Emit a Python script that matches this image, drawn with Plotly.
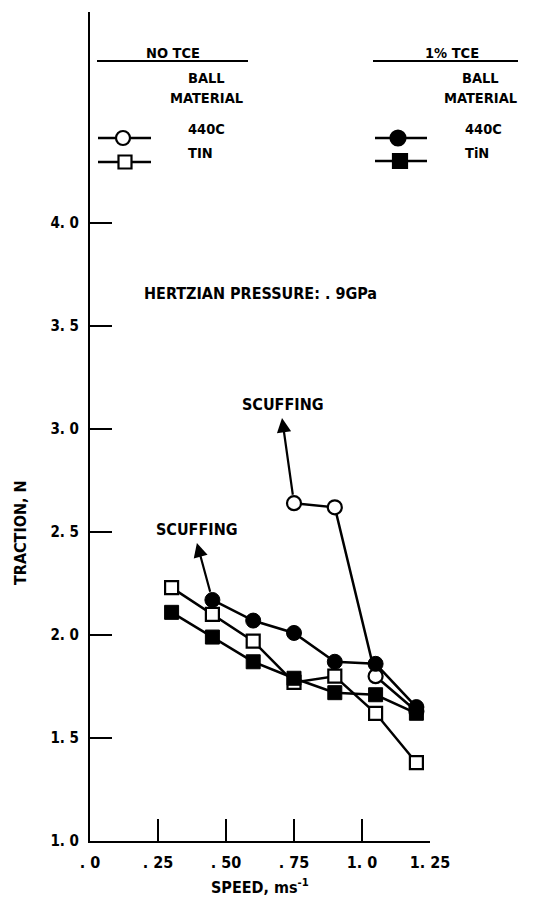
import plotly.graph_objects as go

# ---- data ----
speed_no_440c = [0.75, 0.90, 1.05, 1.20]
trac_no_440c = [2.64, 2.62, 1.80, 1.63]

speed_no_tin = [0.30, 0.45, 0.60, 0.75, 0.90, 1.05, 1.20]
trac_no_tin = [2.23, 2.10, 1.97, 1.77, 1.80, 1.62, 1.38]

speed_tce_440c = [0.45, 0.60, 0.75, 0.90, 1.05, 1.20]
trac_tce_440c = [2.17, 2.07, 2.01, 1.87, 1.86, 1.65]

speed_tce_tin = [0.30, 0.45, 0.60, 0.75, 0.90, 1.05, 1.20]
trac_tce_tin = [2.11, 1.99, 1.87, 1.79, 1.72, 1.71, 1.62]

x_tickvals = [0, 0.25, 0.50, 0.75, 1.0, 1.25]
x_ticktext = [". 0", ". 25", ". 50", ". 75", "1. 0", "1. 25"]
y_tickvals = [1.0, 1.5, 2.0, 2.5, 3.0, 3.5, 4.0]
y_ticktext = ["1. 0", "1. 5", "2. 0", "2. 5", "3. 0", "3. 5", "4. 0"]

# scuffing arrows
scuff_tail_x = [0.45, 0.75]
scuff_tail_y = [2.17, 2.64]
scuff_head_x = [0.393, 0.706]
scuff_head_y = [2.447, 3.053]
scuff_label_x = [0.393, 0.71]
scuff_label_y = [2.51, 3.117]

W, H = 551, 899
FONT = "DejaVu Sans Condensed"
BLACK = "black"

fig = go.Figure()

line = dict(color=BLACK, width=2.5)
fig.add_trace(go.Scatter(x=speed_no_440c, y=trac_no_440c, mode="lines+markers",
                         line=line, cliponaxis=False,
                         marker=dict(symbol="circle", size=14, color="white",
                                     line=dict(color=BLACK, width=2.2))))
fig.add_trace(go.Scatter(x=speed_tce_440c, y=trac_tce_440c, mode="lines+markers",
                         line=line, cliponaxis=False,
                         marker=dict(symbol="circle", size=15, color=BLACK,
                                     line=dict(color=BLACK, width=1))))
fig.add_trace(go.Scatter(x=speed_no_tin, y=trac_no_tin, mode="lines+markers",
                         line=line, cliponaxis=False,
                         marker=dict(symbol="square", size=13, color="white",
                                     line=dict(color=BLACK, width=2.2))))
fig.add_trace(go.Scatter(x=speed_tce_tin, y=trac_tce_tin, mode="lines+markers",
                         line=line, cliponaxis=False,
                         marker=dict(symbol="square", size=14, color=BLACK,
                                     line=dict(color=BLACK, width=1))))

# ---- legend drawn on a pixel-coordinate overlay axis ----
leg_lines = [  # x0, x1, y
    (98, 151, 138), (98, 151, 162), (375, 427, 138), (375, 427, 161),
]
for x0, x1, yy in leg_lines:
    fig.add_trace(go.Scatter(x=[x0, x1], y=[yy, yy], mode="lines", xaxis="x2", yaxis="y2",
                             line=dict(color=BLACK, width=2.5), hoverinfo="skip"))
leg_marks = [
    (123, 138, "circle", "white", 14),
    (125, 162, "square", "white", 13),
    (398, 138, "circle", BLACK, 15),
    (400, 161, "square", BLACK, 14),
]
for mx, my, sym, col, sz in leg_marks:
    fig.add_trace(go.Scatter(x=[mx], y=[my], mode="markers", xaxis="x2", yaxis="y2",
                             marker=dict(symbol=sym, size=sz, color=col,
                                         line=dict(color=BLACK, width=2.2)),
                             hoverinfo="skip"))
for x0, x1, yy in [(97, 248, 61), (373, 518, 61)]:
    fig.add_trace(go.Scatter(x=[x0, x1], y=[yy, yy], mode="lines", xaxis="x2", yaxis="y2",
                             line=dict(color=BLACK, width=2), hoverinfo="skip"))

ann = []
def ptext(txt, x, y, xanchor="center", size=14.5):
    ann.append(dict(text=txt, x=x, y=y, xref="x2", yref="y2", showarrow=False,
                    xanchor=xanchor, yanchor="middle",
                    font=dict(family=FONT, size=size, color=BLACK, weight="bold")))

ptext("NO TCE", 173, 53)
ptext("BALL", 206, 78)
ptext("MATERIAL", 206, 98)
ptext("440C", 186, 129, "left")
ptext("TIN", 186, 153, "left")
ptext("1% TCE", 452, 53)
ptext("BALL", 480, 78)
ptext("MATERIAL", 480, 98)
ptext("440C", 463, 129, "left")
ptext("TiN", 463, 153, "left")

# in-plot texts
ann.append(dict(text="HERTZIAN PRESSURE: . 9GPa", x=0.19, y=3.66, xref="x", yref="y",
                showarrow=False, xanchor="left", yanchor="middle",
                font=dict(family=FONT, size=16, color=BLACK, weight="bold")))
for tx, ty, hx, hy, lx, ly in zip(scuff_tail_x, scuff_tail_y, scuff_head_x, scuff_head_y,
                                  scuff_label_x, scuff_label_y):
    ann.append(dict(text="", x=hx, y=hy, ax=tx, ay=ty, xref="x", yref="y",
                    axref="x", ayref="y", showarrow=True, arrowhead=2, arrowsize=1.3,
                    arrowwidth=2.2, arrowcolor=BLACK, startstandoff=7))
    ann.append(dict(text="SCUFFING", x=lx, y=ly, xref="x", yref="y", showarrow=False,
                    xanchor="center", yanchor="middle",
                    font=dict(family=FONT, size=16, color=BLACK, weight="bold")))

# axis titles
ann.append(dict(text="TRACTION, N", x=20, y=533, xref="x2", yref="y2", showarrow=False,
                textangle=-90, xanchor="center", yanchor="middle",
                font=dict(family=FONT, size=16, color=BLACK, weight="bold")))
ann.append(dict(text="SPEED, ms<sup>-1</sup>", x=260, y=886, xref="x2", yref="y2",
                showarrow=False, xanchor="center", yanchor="middle",
                font=dict(family=FONT, size=16, color=BLACK, weight="bold")))

fig.update_layout(
    template="none",
    width=W, height=H,
    margin=dict(l=0, r=0, t=0, b=0, pad=0, autoexpand=False),
    paper_bgcolor="white", plot_bgcolor="rgba(0,0,0,0)",
    showlegend=False,
    annotations=ann,
    font=dict(family=FONT, size=15, color=BLACK, weight="bold"),
    xaxis=dict(domain=[90 / W, 430 / W], range=[0, 1.25], showgrid=False, zeroline=False,
               automargin=False,
               showline=True, linecolor=BLACK, linewidth=2,
               ticks="inside", ticklen=22, tickwidth=2, tickcolor=BLACK,
               tickvals=x_tickvals, ticktext=x_ticktext, ticklabelstandoff=6,
               tickfont=dict(family=FONT, size=16, color=BLACK, weight="bold")),
    yaxis=dict(domain=[(H - 841) / H, (H - 12) / H], range=[1.0, 1.0 + (841 - 12) / 206],
               showgrid=False, zeroline=False, automargin=False,
               showline=True, linecolor=BLACK, linewidth=2,
               ticks="inside", ticklen=22, tickwidth=2, tickcolor=BLACK,
               tickvals=y_tickvals, ticktext=y_ticktext, ticklabelstandoff=6,
               tickfont=dict(family=FONT, size=15, color=BLACK, weight="bold")),
    xaxis2=dict(domain=[0, 1], range=[0, W], visible=False, anchor="y2", fixedrange=True,
                automargin=False),
    yaxis2=dict(domain=[0, 1], range=[H, 0], visible=False, anchor="x2", fixedrange=True,
                automargin=False),
)

fig.write_html("out.html")
